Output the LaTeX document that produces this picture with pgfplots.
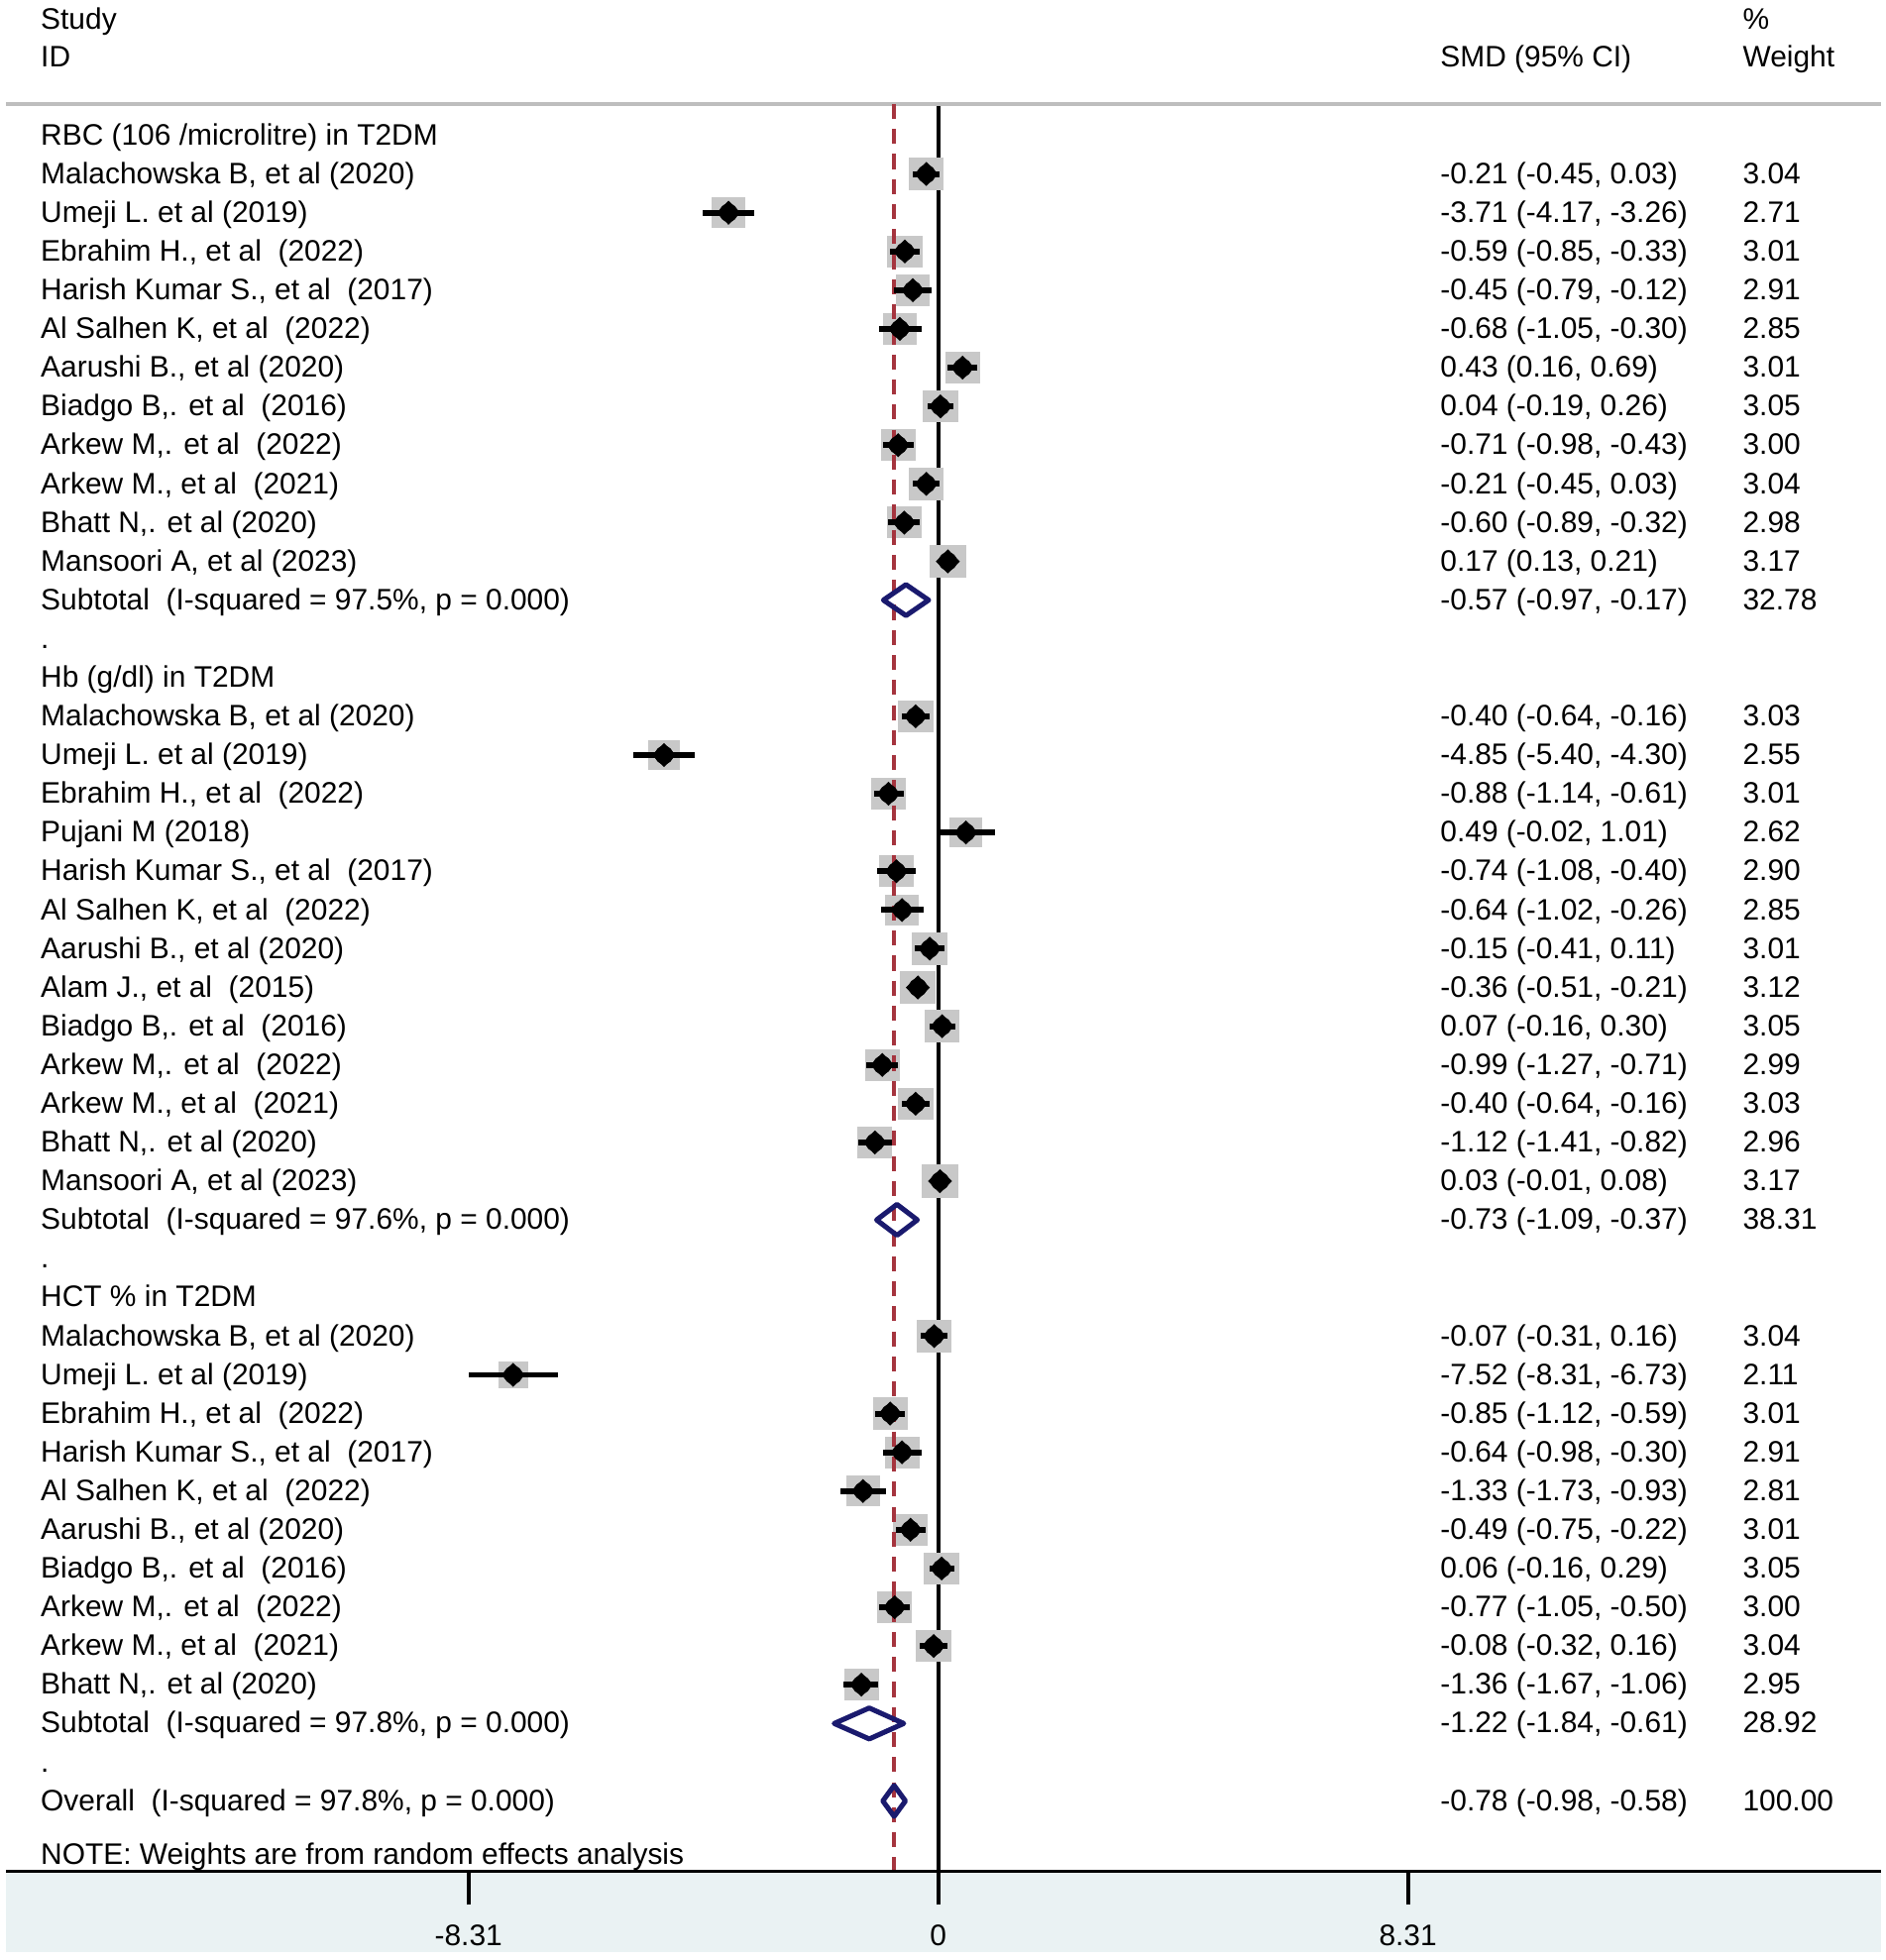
\documentclass[border=0pt]{standalone}
\usepackage{fontspec}
\setmainfont{Liberation Sans}
\usepackage{pgfplots}
\usepackage{pgfplotstable}
\pgfplotsset{compat=1.18}

\definecolor{sqgray}{RGB}{200,200,200}
\definecolor{dashred}{RGB}{165,52,62}
\definecolor{navy}{RGB}{26,26,110}
\definecolor{bandcol}{RGB}{234,242,243}
\definecolor{topgray}{RGB}{190,190,190}

% study rows: row number, SMD, CI, weight
\pgfplotstableread{
row est lo hi w
1 -0.21 -0.45 0.03 3.04
2 -3.71 -4.17 -3.26 2.71
3 -0.59 -0.85 -0.33 3.01
4 -0.45 -0.79 -0.12 2.91
5 -0.68 -1.05 -0.30 2.85
6 0.43 0.16 0.69 3.01
7 0.04 -0.19 0.26 3.05
8 -0.71 -0.98 -0.43 3.00
9 -0.21 -0.45 0.03 3.04
10 -0.60 -0.89 -0.32 2.98
11 0.17 0.13 0.21 3.17
15 -0.40 -0.64 -0.16 3.03
16 -4.85 -5.40 -4.30 2.55
17 -0.88 -1.14 -0.61 3.01
18 0.49 -0.02 1.01 2.62
19 -0.74 -1.08 -0.40 2.90
20 -0.64 -1.02 -0.26 2.85
21 -0.15 -0.41 0.11 3.01
22 -0.36 -0.51 -0.21 3.12
23 0.07 -0.16 0.30 3.05
24 -0.99 -1.27 -0.71 2.99
25 -0.40 -0.64 -0.16 3.03
26 -1.12 -1.41 -0.82 2.96
27 0.03 -0.01 0.08 3.17
31 -0.07 -0.31 0.16 3.04
32 -7.52 -8.31 -6.73 2.11
33 -0.85 -1.12 -0.59 3.01
34 -0.64 -0.98 -0.30 2.91
35 -1.33 -1.73 -0.93 2.81
36 -0.49 -0.75 -0.22 3.01
37 0.06 -0.16 0.29 3.05
38 -0.77 -1.05 -0.50 3.00
39 -0.08 -0.32 0.16 3.04
40 -1.36 -1.67 -1.06 2.95
}\studies

\pgfplotstableread[col sep=semicolon]{
row;txt
0;RBC (106 /microlitre) in T2DM
1;Malachowska B, et al (2020)
2;Umeji L. et al (2019)
3;Ebrahim H., et al~ (2022)
4;Harish Kumar S., et al~ (2017)
5;Al Salhen K, et al~ (2022)
6;Aarushi B., et al (2020)
7;Biadgo B,. et al~ (2016)
8;Arkew M,. et al~ (2022)
9;Arkew M., et al~ (2021)
10;Bhatt N,. et al (2020)
11;Mansoori A, et al (2023)
12;Subtotal~ (I-squared = 97.5\%, p = 0.000)
13;.
14;Hb (g/dl) in T2DM
15;Malachowska B, et al (2020)
16;Umeji L. et al (2019)
17;Ebrahim H., et al~ (2022)
18;Pujani M (2018)
19;Harish Kumar S., et al~ (2017)
20;Al Salhen K, et al~ (2022)
21;Aarushi B., et al (2020)
22;Alam J., et al~ (2015)
23;Biadgo B,. et al~ (2016)
24;Arkew M,. et al~ (2022)
25;Arkew M., et al~ (2021)
26;Bhatt N,. et al (2020)
27;Mansoori A, et al (2023)
28;Subtotal~ (I-squared = 97.6\%, p = 0.000)
29;.
30;HCT \% in T2DM
31;Malachowska B, et al (2020)
32;Umeji L. et al (2019)
33;Ebrahim H., et al~ (2022)
34;Harish Kumar S., et al~ (2017)
35;Al Salhen K, et al~ (2022)
36;Aarushi B., et al (2020)
37;Biadgo B,. et al~ (2016)
38;Arkew M,. et al~ (2022)
39;Arkew M., et al~ (2021)
40;Bhatt N,. et al (2020)
41;Subtotal~ (I-squared = 97.8\%, p = 0.000)
42;.
43;Overall~ (I-squared = 97.8\%, p = 0.000)
}\labels

\pgfplotstableread[col sep=semicolon]{
row;ci;wt
1;-0.21 (-0.45, 0.03);3.04
2;-3.71 (-4.17, -3.26);2.71
3;-0.59 (-0.85, -0.33);3.01
4;-0.45 (-0.79, -0.12);2.91
5;-0.68 (-1.05, -0.30);2.85
6;0.43 (0.16, 0.69);3.01
7;0.04 (-0.19, 0.26);3.05
8;-0.71 (-0.98, -0.43);3.00
9;-0.21 (-0.45, 0.03);3.04
10;-0.60 (-0.89, -0.32);2.98
11;0.17 (0.13, 0.21);3.17
12;-0.57 (-0.97, -0.17);32.78
15;-0.40 (-0.64, -0.16);3.03
16;-4.85 (-5.40, -4.30);2.55
17;-0.88 (-1.14, -0.61);3.01
18;0.49 (-0.02, 1.01);2.62
19;-0.74 (-1.08, -0.40);2.90
20;-0.64 (-1.02, -0.26);2.85
21;-0.15 (-0.41, 0.11);3.01
22;-0.36 (-0.51, -0.21);3.12
23;0.07 (-0.16, 0.30);3.05
24;-0.99 (-1.27, -0.71);2.99
25;-0.40 (-0.64, -0.16);3.03
26;-1.12 (-1.41, -0.82);2.96
27;0.03 (-0.01, 0.08);3.17
28;-0.73 (-1.09, -0.37);38.31
31;-0.07 (-0.31, 0.16);3.04
32;-7.52 (-8.31, -6.73);2.11
33;-0.85 (-1.12, -0.59);3.01
34;-0.64 (-0.98, -0.30);2.91
35;-1.33 (-1.73, -0.93);2.81
36;-0.49 (-0.75, -0.22);3.01
37;0.06 (-0.16, 0.29);3.05
38;-0.77 (-1.05, -0.50);3.00
39;-0.08 (-0.32, 0.16);3.04
40;-1.36 (-1.67, -1.06);2.95
41;-1.22 (-1.84, -0.61);28.92
43;-0.78 (-0.98, -0.58);100.00
}\stats

\begin{document}
\begin{tikzpicture}[font=\fontsize{7.1}{8.6}\selectfont]
\begin{axis}[
  scale only axis, width=449.1pt, height=448.2pt,
  xmin=-16.487, xmax=16.687, ymin=-44.811, ymax=3.4918,
  clip=false, clip marker paths=true, axis on top,
  axis x line*=bottom, axis y line=none,
  x axis line style={-, line width=0.8pt, black},
  xtick={-8.31,0,8.31}, xticklabels={-8.31,0,8.31},
  xtick align=outside, major tick length=8.1pt,
  every tick/.append style={black, line width=0.9pt},
  xticklabel style={inner sep=0pt, yshift=-4.6pt},
  ytick=\empty,
  txt/.style={draw=none, mark=none, nodes near coords,
    point meta=explicit symbolic,
    nodes near coords style={anchor=base west, inner sep=0pt,
      yshift=-2.3pt, black}},
]
% frame pieces
\addplot[black, line width=0.9pt] coordinates {(0,0.808) (0,-44.811)};
\addplot[fill=bandcol, draw=none] coordinates
  {(-16.487,-44.811) (16.687,-44.811) (16.687,-46.912) (-16.487,-46.912)} -- cycle;
\addplot[topgray, line width=0.9pt] coordinates {(-16.487,0.808) (16.687,0.808)};

% weight boxes
\addplot[scatter, only marks, mark=square*, point meta=\thisrow{w},
  mark options={xscale=1.1, draw=sqgray, fill=sqgray, line width=0.3pt,
    rounded corners=0.8pt},
  scatter/use mapped color={draw=sqgray, fill=sqgray},
  visualization depends on={3.7*sqrt(\thisrow{w}/3.04) \as \sqsize},
  scatter/@pre marker code/.append style={/tikz/mark size=\sqsize}]
  table[x=est, y expr=-\thisrow{row}] {\studies};

% overall effect line
\addplot[dashred, line width=0.95pt, dash pattern=on 3.6pt off 2.4pt]
  coordinates {(-0.78,0.808) (-0.78,-44.811)};

% confidence intervals
\addplot[only marks, mark=none,
  error bars/.cd, x dir=both, x explicit, error mark=none,
  error bar style={line width=1.4pt, black}]
  table[x=est, y expr=-\thisrow{row},
    x error plus expr=\thisrow{hi}-\thisrow{est},
    x error minus expr=\thisrow{est}-\thisrow{lo}] {\studies};

% point estimates
\addplot[only marks, mark=diamond*, mark size=2.6pt,
  mark options={xscale=1.33, draw=black, fill=black}]
  table[x=est, y expr=-\thisrow{row}] {\studies};

% pooled estimates
\addplot[navy, line width=1.2pt, line join=round] coordinates
  {(-0.97,-12) (-0.57,-11.6) (-0.17,-12) (-0.57,-12.4)} -- cycle;
\addplot[navy, line width=1.2pt, line join=round] coordinates
  {(-1.09,-28) (-0.73,-27.6) (-0.37,-28) (-0.73,-28.4)} -- cycle;
\addplot[navy, line width=1.2pt, line join=round] coordinates
  {(-1.84,-41) (-1.22,-40.6) (-0.61,-41) (-1.22,-41.4)} -- cycle;
\addplot[navy, line width=1.2pt, line join=round] coordinates
  {(-0.98,-43) (-0.78,-42.6) (-0.58,-43) (-0.78,-43.4)} -- cycle;

% text columns
\addplot[txt] table[x expr=-15.89, y expr=-\thisrow{row}, meta=txt] {\labels};
\addplot[txt] table[x expr=8.87, y expr=-\thisrow{row}, meta=ci] {\stats};
\addplot[txt] table[x expr=14.22, y expr=-\thisrow{row}, meta=wt] {\stats};

% headers and note
\node[anchor=base west, inner sep=0pt, yshift=-2.3pt] at (axis cs:-15.89,2.974) {Study};
\node[anchor=base west, inner sep=0pt, yshift=-2.3pt] at (axis cs:-15.89,2.005) {ID};
\node[anchor=base west, inner sep=0pt, yshift=-2.3pt] at (axis cs:8.87,2.005) {SMD (95\% CI)};
\node[anchor=base west, inner sep=0pt, yshift=-2.3pt] at (axis cs:14.22,2.974) {\%};
\node[anchor=base west, inner sep=0pt, yshift=-2.3pt] at (axis cs:14.22,2.005) {Weight};
\node[anchor=base west, inner sep=0pt, yshift=-2.3pt] at (axis cs:-15.89,-44.4) {NOTE: Weights are from random effects analysis};

% page extent
\addplot[draw=none, mark=none, forget plot] coordinates {(-16.598,-47.106) (16.753,3.4918)};
\end{axis}
\end{tikzpicture}
\end{document}
